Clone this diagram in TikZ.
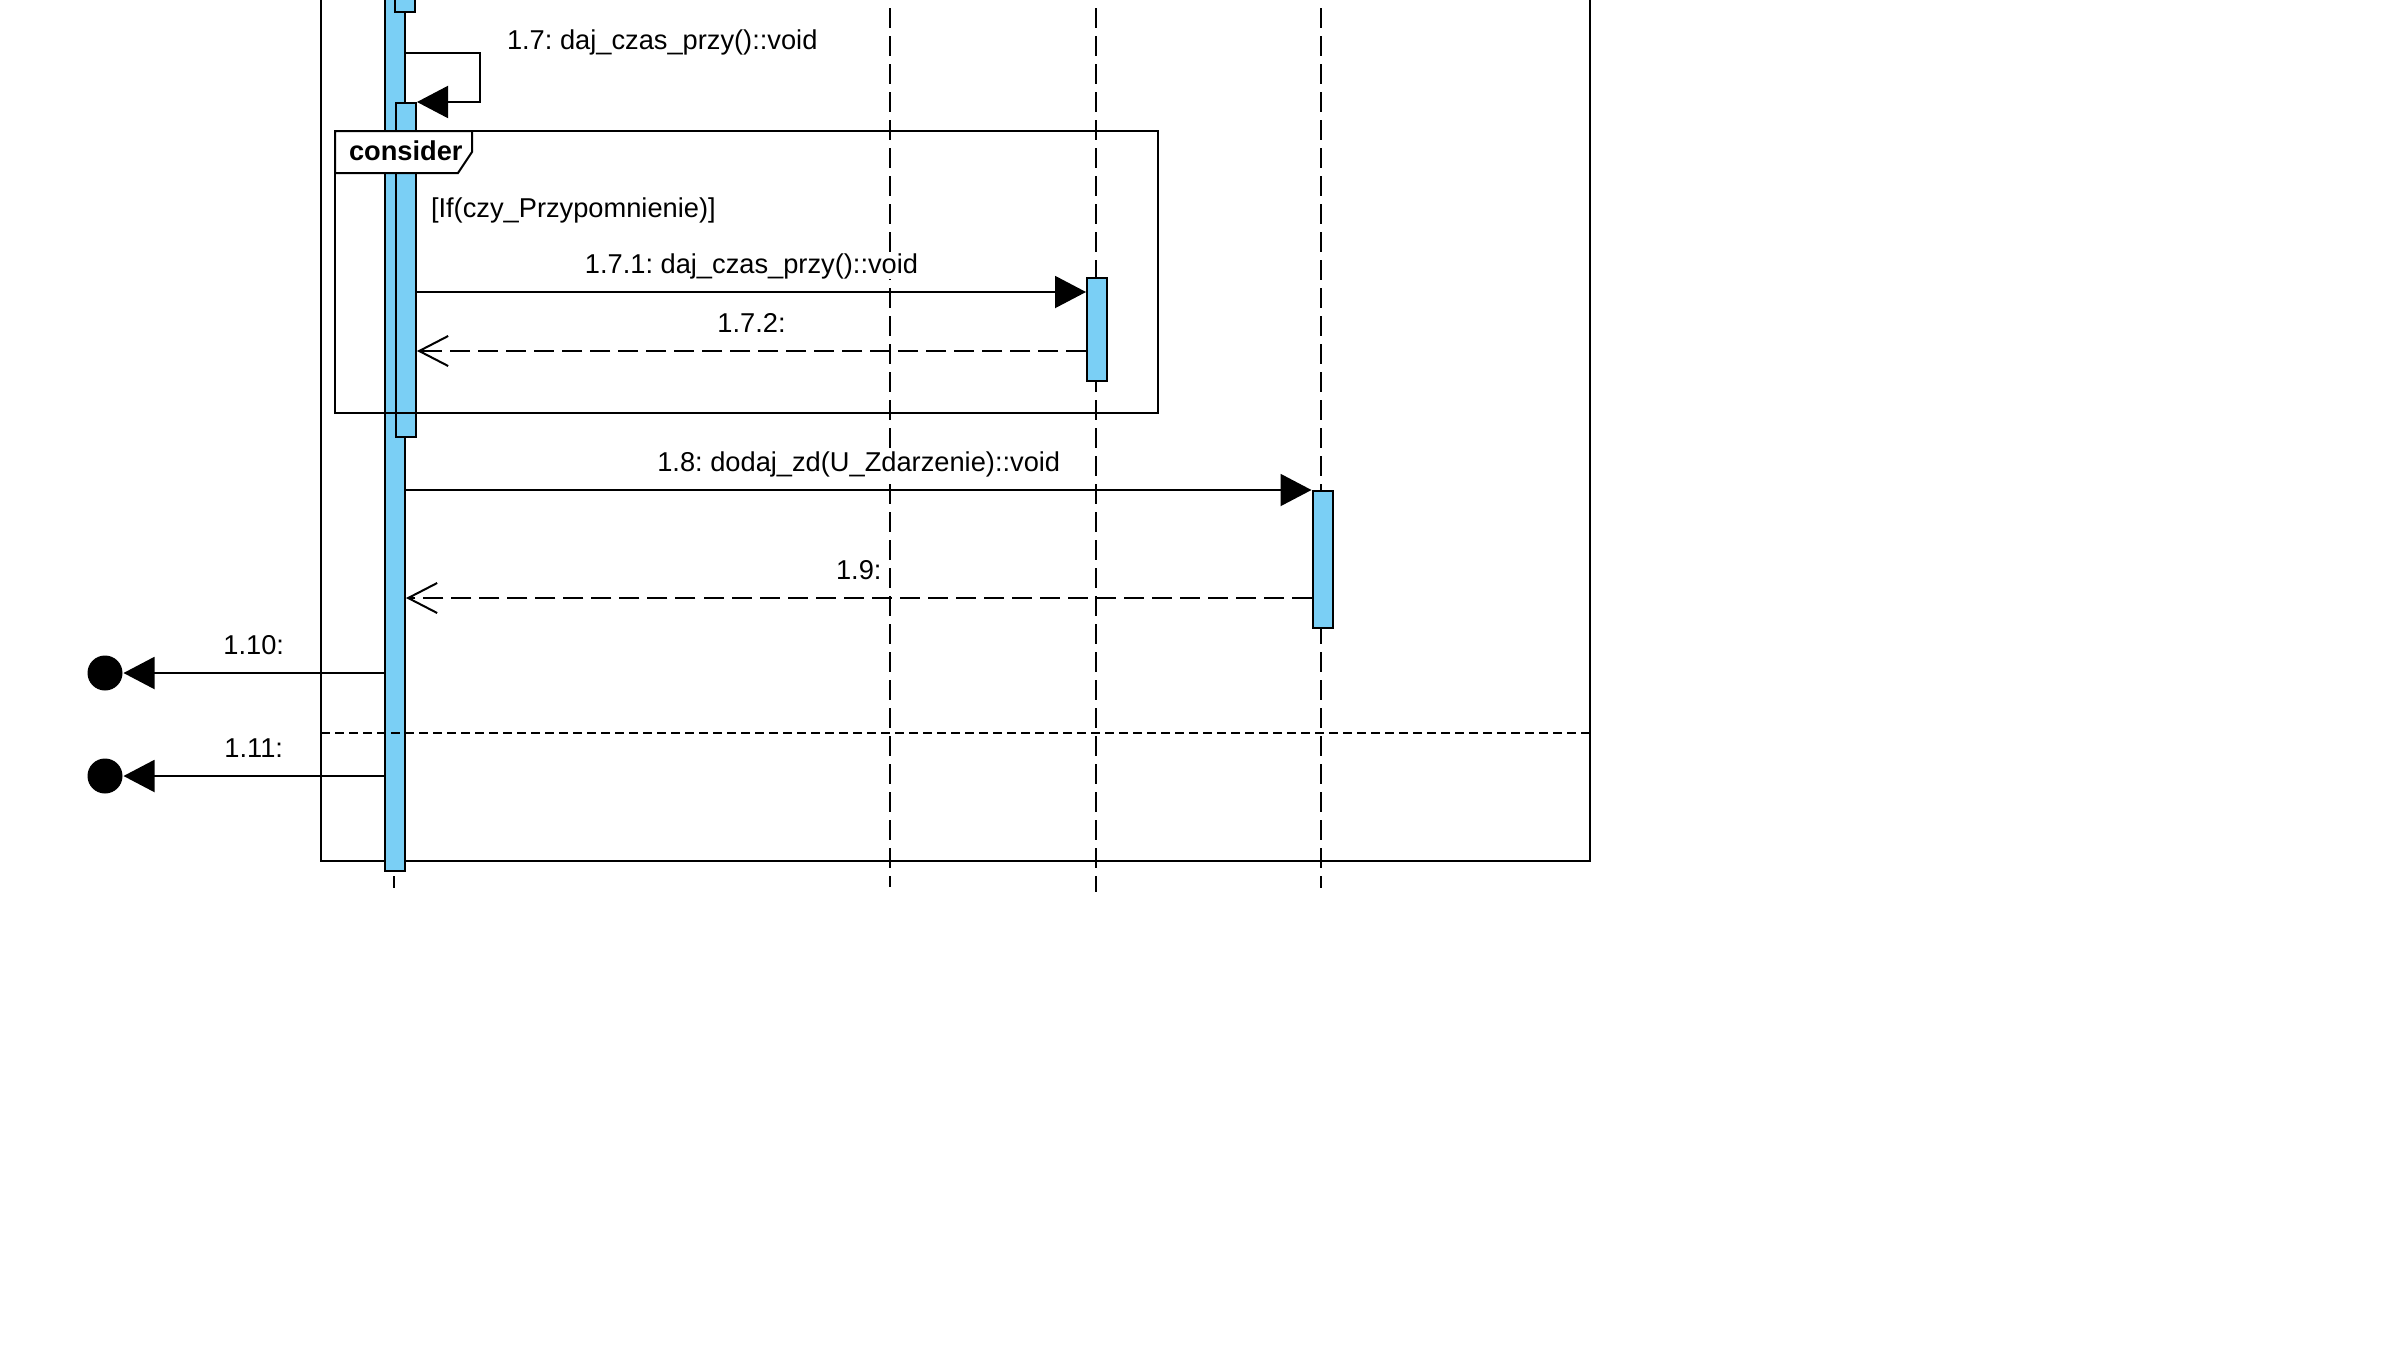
\documentclass[tikz,border=0pt]{standalone}
\usepackage{fontspec}
\setmainfont{Liberation Sans}
\usetikzlibrary{arrows.meta}
\definecolor{barblue}{RGB}{122,207,245}
\frenchspacing

\begin{document}
\begin{tikzpicture}
  [ x=0.4pt, y=-0.4pt,
    line width=0.8pt,
    font=\fontsize{10.9}{13}\selectfont]
  \tikzset{
    bar/.style={
      rectangle, draw=black, fill=barblue,
      minimum width=8pt, inner sep=0,
    },
    lifeline/.style={draw, dash pattern=on 8pt off 3.2pt},
    msg/.style={-{Triangle[length=12.4pt, width=12.8pt]}, draw},
    ret/.style={-{Straight Barb[length=11.6pt, width=12pt]}, draw,
      dash pattern=on 8pt off 3.2pt},
    lbl/.style={text height=8pt, text depth=2.5pt, inner sep=0},
    msglbl/.style={lbl, midway, yshift=10.3pt, fill=white},
    endpt/.style={circle, fill=black, minimum size=14pt, inner sep=0},
  }
  \clip (0,0) rectangle (2386,1346);

  % lifelines
  \coordinate (head1) at (394,-20);
  \coordinate (head2) at (890,-20);
  \coordinate (head3) at (1096,-20);
  \coordinate (head4) at (1321,-20);
  \draw[lifeline] (head1) -- (394,888);
  \draw[lifeline] (head2) -- (890,887);
  \draw[lifeline] (head3) -- (1096,892);
  \draw[lifeline] (head4) -- (1321,888);

  % outer frame
  \draw (321,-20) -- (321,861) -- (1590,861) -- (1590,-20);

  % activations
  \node[bar, minimum height=372.4pt] (act1)   at (395,405.5)   {};
  \node[bar, minimum height=28.6pt]  (act1a)  at (405,-24.25)  {};
  \node[bar, minimum height=133.6pt] (act17)  at (406,270)     {};
  \node[bar, minimum height=41.2pt]  (act171) at (1097,329.5)  {};
  \node[bar, minimum height=54.8pt]  (act18)  at (1322.5,559.5) {};

  \draw[dash pattern=on 3.6pt off 2pt] (321,733) -- (1590,733);

  % self call
  \coordinate (self7) at (480,53);
  \draw[msg] (act1.east |- self7) -- (self7) |- (act17.north east);
  \node[lbl, anchor=west] (lbl17) at (506,43) {1.7: daj\_czas\_przy()::void};

  % consider fragment
  \draw (335,131) rectangle (1158,413);
  \draw[fill=white] (335,131) -- (472,131) -- (472,152) -- (458,173)
    -- (335,173) -- cycle;
  \node[lbl, anchor=west, font=\fontsize{10.9}{13}\selectfont\bfseries]
    (consider) at (348,154) {consider};
  \node[lbl, anchor=west] (guard) at (430,211) {[If(czy\_Przypomnienie)]};

  \coordinate (y171) at (0,292);
  \coordinate (y172) at (0,351);
  \draw[msg] (act17.east |- y171)
    -- node[msglbl] (lbl171) {1.7.1: daj\_czas\_przy()::void}
    (act171.west |- y171);
  \draw[ret] (act171.west |- y172)
    -- node[msglbl] (lbl172) {1.7.2:}
    (act17.east |- y172);

  \coordinate (y19) at (0,598);
  \draw[msg] (act1.east |- act18.north)
    -- node[msglbl] (lbl18) {1.8: dodaj\_zd(U\_Zdarzenie)::void}
    (act18.north west);
  \draw[ret] (act18.west |- y19)
    -- node[msglbl] (lbl19) {1.9:}
    (act1.east |- y19);

  % lost messages
  \node[endpt] (end110) at (105,673) {};
  \node[endpt] (end111) at (105,776) {};
  \draw[msg] (act1.west |- end110) -- node[msglbl] (lbl110) {1.10:} (end110.east);
  \draw[msg] (act1.west |- end111) -- node[msglbl] (lbl111) {1.11:} (end111.east);
\end{tikzpicture}
\end{document}
